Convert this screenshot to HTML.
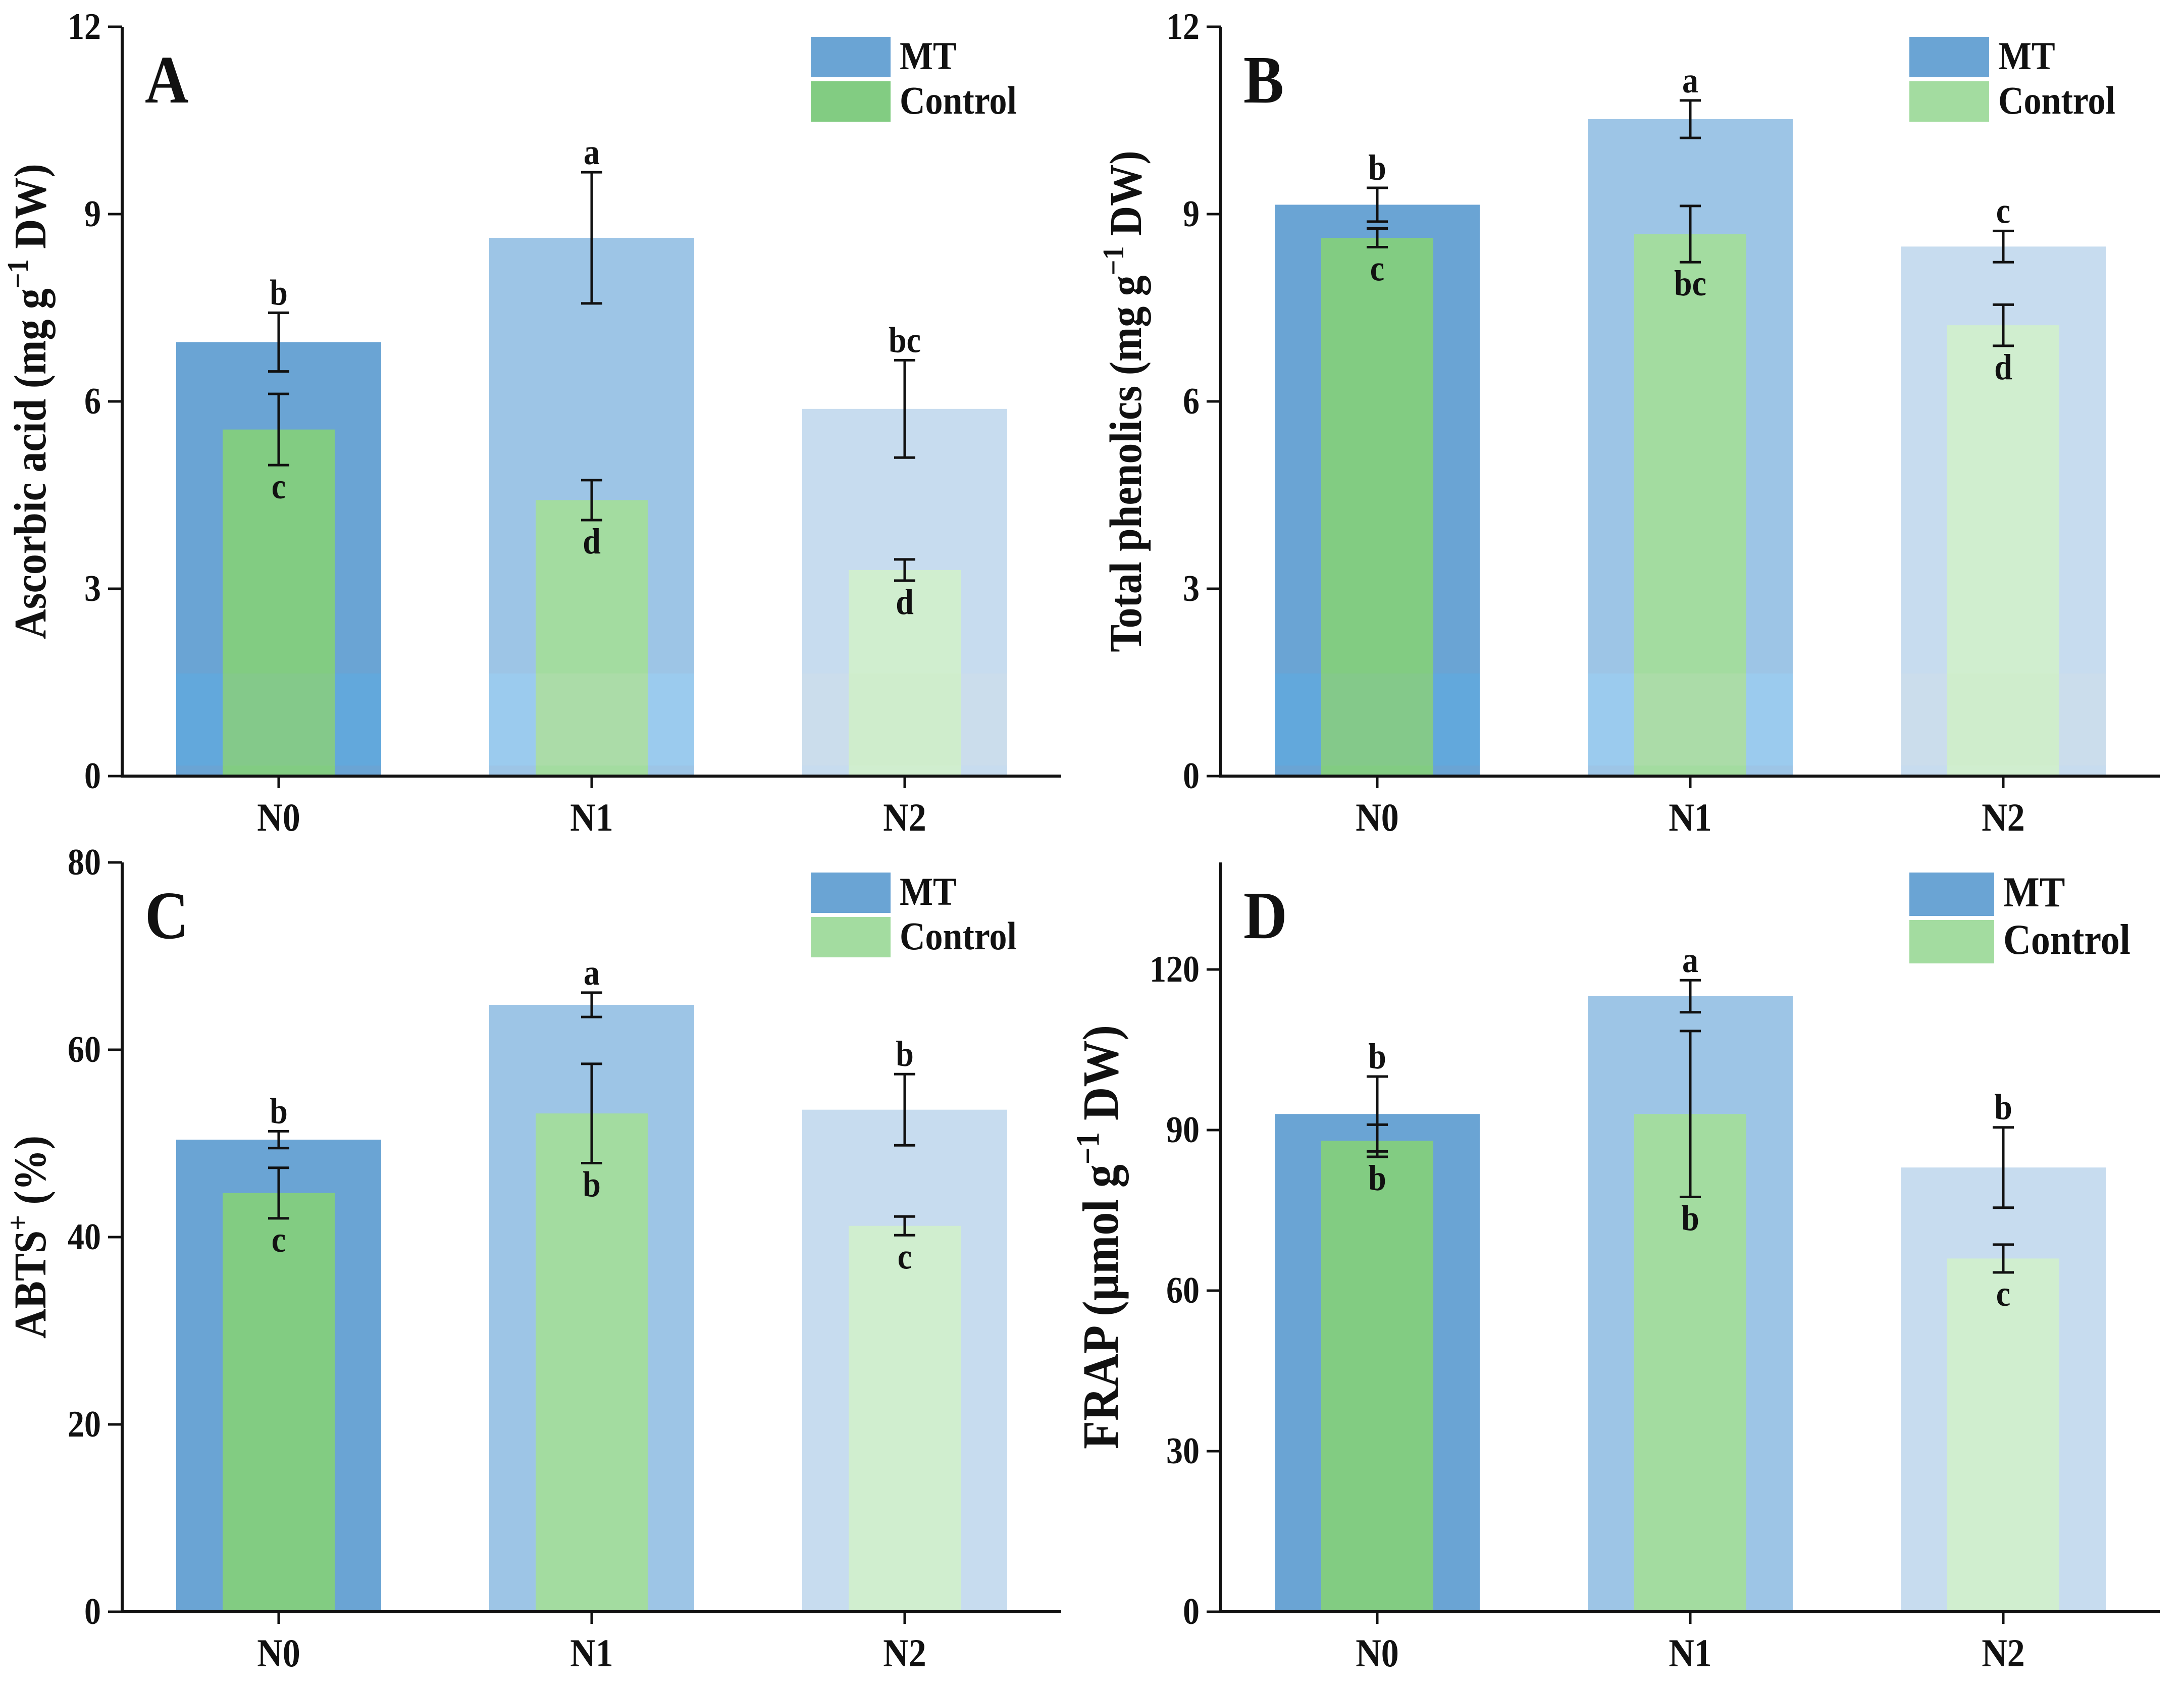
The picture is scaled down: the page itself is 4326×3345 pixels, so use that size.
<!DOCTYPE html>
<html><head><meta charset="utf-8">
<style>
html,body{margin:0;padding:0;background:#fff;}
svg{display:block;font-family:"Liberation Serif",serif;font-weight:bold;}
</style></head>
<body>
<svg id="chart" width="4326" height="3345" viewBox="0 0 4326 3345" xmlns="http://www.w3.org/2000/svg"></svg>
<script>
const categories = ["N0","N1","N2"];
const aMT = [6.95, 8.62, 5.88];
const aMTerr = [0.47, 1.05, 0.78];
const aCtl = [5.55, 4.42, 3.30];
const aCtlErr = [0.57, 0.32, 0.17];
const aMTletters = ["b","a","bc"];
const aCtlLetters = ["c","d","d"];
const aTicks = [0,3,6,9,12];

const bMT = [9.15, 10.52, 8.48];
const bMTerr = [0.27, 0.30, 0.25];
const bCtl = [8.62, 8.68, 7.22];
const bCtlErr = [0.15, 0.45, 0.33];
const bMTletters = ["b","a","c"];
const bCtlLetters = ["c","bc","d"];
const bTicks = [0,3,6,9,12];

const cMT = [50.4, 64.8, 53.6];
const cMTerr = [0.9, 1.3, 3.8];
const cCtl = [44.7, 53.2, 41.2];
const cCtlErr = [2.7, 5.3, 1.0];
const cMTletters = ["b","a","b"];
const cCtlLetters = ["c","b","c"];
const cTicks = [0,20,40,60,80];

const dMT = [93, 115, 83];
const dMTerr = [7, 3, 7.5];
const dCtl = [88, 93, 66];
const dCtlErr = [3, 15.5, 2.6];
const dMTletters = ["b","a","b"];
const dCtlLetters = ["b","b","c"];
const dTicks = [0,30,60,90,120];

const NS="http://www.w3.org/2000/svg";
const svg=document.getElementById('chart');
const mtColors=["#6aa4d4","#9dc5e6","#c7dcef"];
const ctlColors=["#82cc82","#a3dca0","#d0eecf"];
const mtBand=["#62a8dc","#9bcbee","#cbddec"];
const ctlBand=["#84c98a","#abdca8","#cfedcc"];
function mk(tag,attrs,parent){const e=document.createElementNS(NS,tag);for(const k in attrs)e.setAttribute(k,attrs[k]);(parent||svg).appendChild(e);return e;}
function txt(parent,x,y,size,str,anchor,sy){
  const t=mk('text',{x:0,y:0,'font-size':size,'text-anchor':anchor||'middle',fill:'#111',transform:`translate(${x},${y}) scale(1,${sy||1.12})`},parent);
  t.textContent=str;return t;
}

function panel(cfg){
  const g=mk('g',{});
  
  
  const x0=cfg.x0,x1=cfg.x0+1860,top=cfg.top,zero=cfg.zero,ymax=cfg.ymax;
  const y=v=>zero-(v/ymax)*(zero-top);
  const xc=i=>x0+(x1-x0)*(i+0.5)/categories.length;
  categories.forEach((c,i)=>{
    const cx=xc(i);
    const b=mk('rect',{x:cx-203,y:y(cfg.mt[i]),width:406,height:zero-y(cfg.mt[i]),fill:mtColors[i]},g);
    
    
    if(cfg.band){mk('rect',{x:cx-203,y:y(ymax*0.137),width:406,height:y(ymax*0.014)-y(ymax*0.137),fill:mtBand[i]},g);}
    const gb=mk('rect',{x:cx-111,y:y(cfg.ctl[i]),width:222,height:zero-y(cfg.ctl[i]),fill:ctlColors[i]},g);
    
    
    if(cfg.band){mk('rect',{x:cx-111,y:y(ymax*0.137),width:222,height:y(ymax*0.014)-y(ymax*0.137),fill:ctlBand[i]},g);}
    [[cfg.mt[i],cfg.mtErr[i],'mt'],[cfg.ctl[i],cfg.ctlErr[i],'control']].forEach(([v,e,n])=>{
      const eg=mk('g',{stroke:'#111','stroke-width':5},g);
      
      
      mk('line',{x1:cx,x2:cx,y1:y(v+e),y2:y(v-e)},eg);
      mk('line',{x1:cx-21,x2:cx+21,y1:y(v+e),y2:y(v+e)},eg);
      mk('line',{x1:cx-21,x2:cx+21,y1:y(v-e),y2:y(v-e)},eg);
    });
    const t1=txt(g,cx,y(cfg.mt[i]+cfg.mtErr[i])-16,64,cfg.mtL[i]);
    
    
    const t2=txt(g,cx,y(cfg.ctl[i]-cfg.ctlErr[i])+66,64,cfg.ctlL[i]);
    
    
    mk('line',{x1:cx,x2:cx,y1:zero,y2:zero+24,stroke:'#111','stroke-width':5},g);
    const ct=txt(g,cx,zero+108,70,c);
    
    
  });
  mk('line',{x1:x0,x2:x0,y1:top,y2:zero+3,stroke:'#111','stroke-width':6},g);
  mk('line',{x1:x0-3,x2:x1,y1:zero,y2:zero,stroke:'#111','stroke-width':6},g);
  cfg.ticks.forEach(t=>{
    mk('line',{x1:x0-28,x2:x0,y1:y(t),y2:y(t),stroke:'#111','stroke-width':5},g);
    const tl=txt(g,x0-42,y(t)+24,66,String(t),'end');
    
    
  });
  const pl=txt(g,x0+45,top+150,120,cfg.id,'start');
  
  
  const ty=(top+zero)/2;
  const yt=mk('text',{x:0,y:0,'font-size':cfg.titleSize,'text-anchor':'middle',fill:'#111',transform:`translate(${cfg.titleX},${ty}) rotate(-90) scale(1,1.1)`},g);
  yt.innerHTML=cfg.title;
  
  
  const lx=x0+1364,ly=top+20,bh=cfg.legH;
  const lg=mk('g',{},g);
  
  
  mk('rect',{x:lx,y:ly,width:cfg.legW,height:bh,fill:'#6aa4d4'},lg);
  mk('rect',{x:lx,y:ly+bh+8,width:cfg.legW,height:bh,fill:cfg.legCtl},lg);
  const l1=txt(lg,lx+cfg.legW+18,ly+bh/2+24,cfg.legFont,'MT','start');
  
  
  const l2=txt(lg,lx+cfg.legW+18,ly+bh*1.5+32,cfg.legFont,'Control','start');
  
  
}
panel({id:'A',x0:242,top:53,zero:1537,ymax:12,band:true,mt:aMT,mtErr:aMTerr,ctl:aCtl,ctlErr:aCtlErr,mtL:aMTletters,ctlL:aCtlLetters,ticks:aTicks,titleX:90,titleSize:82,title:'Ascorbic acid (mg g<tspan dy="-32" font-size="54">−1</tspan><tspan dy="32"> DW)</tspan>',legW:158,legH:80,legFont:70,legCtl:'#82cc82'});
panel({id:'B',x0:2418,top:53,zero:1537,ymax:12,band:true,mt:bMT,mtErr:bMTerr,ctl:bCtl,ctlErr:bCtlErr,mtL:bMTletters,ctlL:bCtlLetters,ticks:bTicks,titleX:2260,titleSize:82,title:'Total phenolics (mg g<tspan dy="-32" font-size="54">−1</tspan><tspan dy="32"> DW)</tspan>',legW:158,legH:80,legFont:70,legCtl:'#a3dca0'});
panel({id:'C',x0:242,top:1708,zero:3192,ymax:80,band:false,mt:cMT,mtErr:cMTerr,ctl:cCtl,ctlErr:cCtlErr,mtL:cMTletters,ctlL:cCtlLetters,ticks:cTicks,titleX:90,titleSize:82,title:'ABTS<tspan dy="-32" font-size="54">+</tspan><tspan dy="32"> (%)</tspan>',legW:158,legH:80,legFont:70,legCtl:'#a3dca0'});
panel({id:'D',x0:2418,top:1708,zero:3192,ymax:140,band:false,mt:dMT,mtErr:dMTerr,ctl:dCtl,ctlErr:dCtlErr,mtL:dMTletters,ctlL:dCtlLetters,ticks:dTicks,titleX:2214,titleSize:92,title:'FRAP (µmol g<tspan dy="-34" font-size="60">−1</tspan><tspan dy="34"> DW)</tspan>',legW:168,legH:86,legFont:76,legCtl:'#a3dca0'});
</script>
</body></html>
